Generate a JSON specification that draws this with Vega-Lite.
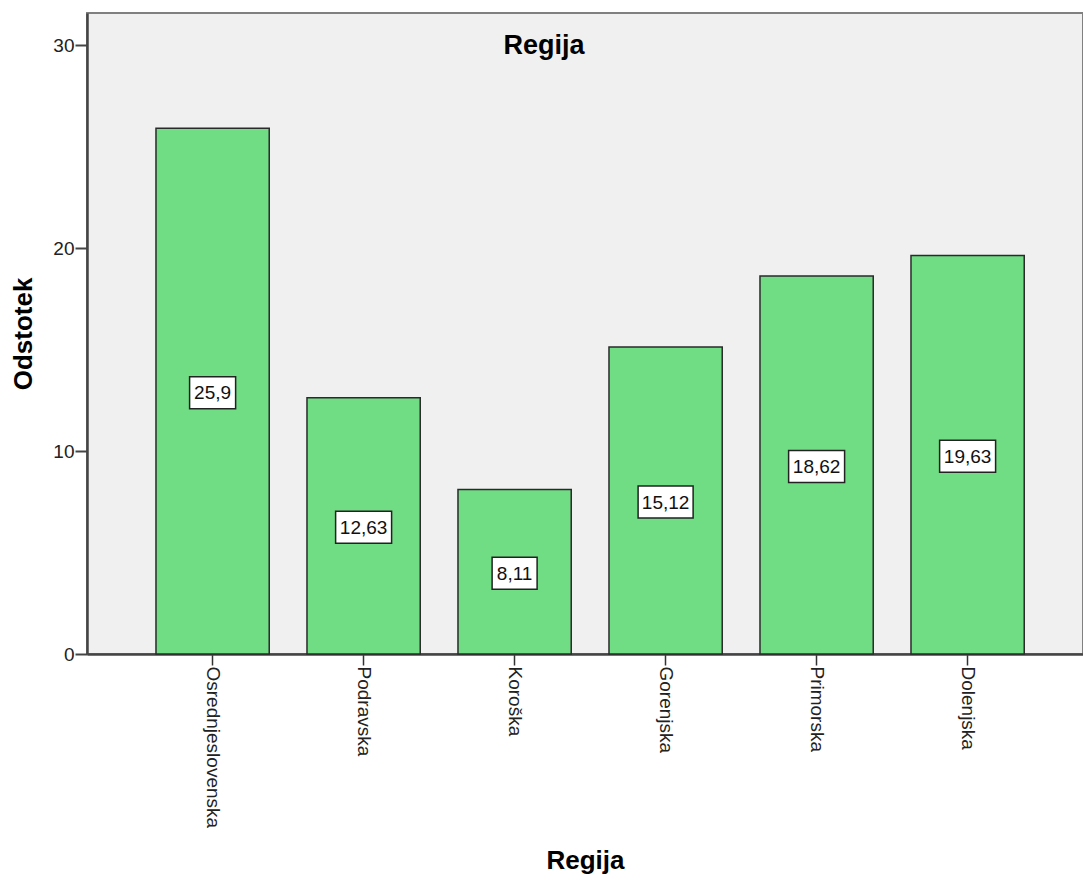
{
  "$schema": "https://vega.github.io/schema/vega-lite/v6.json",
  "width": 996,
  "height": 641,
  "autosize": {"type": "none"},
  "padding": {"left": 87, "top": 13, "right": 0, "bottom": 225},
  "background": "white",
  "config": {
    "font": "Liberation Sans",
    "view": {"fill": "#f0f0f0", "stroke": "#808080", "strokeWidth": 2},
    "locale": {"number": {"decimal": ",", "thousands": ".", "grouping": [3], "currency": ["", " €"]}}
  },
  "title": {
    "text": "Regija",
    "fontSize": 27,
    "fontWeight": "bold",
    "color": "black",
    "anchor": "middle",
    "frame": "group",
    "baseline": "alphabetic",
    "offset": 0,
    "dx": -41,
    "dy": 68
  },
  "data": {
    "values": [
      {"Regija": "Osrednjeslovenska", "Odstotek": 25.9},
      {"Regija": "Podravska", "Odstotek": 12.63},
      {"Regija": "Koroška", "Odstotek": 8.11},
      {"Regija": "Gorenjska", "Odstotek": 15.12},
      {"Regija": "Primorska", "Odstotek": 18.62},
      {"Regija": "Dolenjska", "Odstotek": 19.63}
    ]
  },
  "encoding": {
    "x": {
      "field": "Regija",
      "type": "nominal",
      "sort": null,
      "scale": {"paddingInner": 0.25, "paddingOuter": 0.423, "align": 0.54},
      "axis": {
        "title": "Regija",
        "labelAngle": 90,
        "labelFontSize": 19,
        "labelColor": "#222",
        "labelPadding": 1,
        "labelLimit": 400,
        "labelOverlap": false,
        "tickSize": 11,
        "tickColor": "#333",
        "tickWidth": 1.5,
        "domainColor": "#444",
        "domainWidth": 2.5,
        "titleFontSize": 26,
        "titleFontWeight": "bold",
        "titleColor": "black",
        "titlePadding": 20
      }
    }
  },
  "layer": [
    {
      "mark": {"type": "bar", "fill": "#70dc84", "stroke": "#2a2a2a", "strokeWidth": 1.5},
      "encoding": {
        "y": {
          "field": "Odstotek",
          "type": "quantitative",
          "scale": {"domain": [0, 31.58], "nice": false, "zero": true},
          "axis": {
            "values": [0, 10, 20, 30],
            "title": "Odstotek",
            "labelFontSize": 19,
            "labelColor": "#222",
            "labelPadding": 1,
            "tickSize": 12,
            "tickWidth": 2,
            "tickColor": "#444",
            "domainColor": "#444",
            "domainWidth": 2.5,
            "grid": false,
            "titleFontSize": 26,
            "titleFontWeight": "bold",
            "titleColor": "black",
            "titlePadding": 16
          }
        }
      }
    },
    {
      "mark": {"type": "point", "filled": true, "fill": "white", "stroke": "#222", "strokeWidth": 1.5, "size": 3600, "opacity": 1, "yOffset": 1.5},
      "encoding": {
        "y": {"field": "Odstotek", "type": "quantitative", "scale": {"domain": [0, 63.16], "nice": false}, "axis": null},
        "shape": {
          "field": "Regija",
          "type": "nominal",
          "scale": {
            "domain": ["Osrednjeslovenska", "Podravska", "Koroška", "Gorenjska", "Primorska", "Dolenjska"],
            "range": [
              "M-0.767,-0.533L0.767,-0.533L0.767,0.533L-0.767,0.533Z",
              "M-0.933,-0.533L0.933,-0.533L0.933,0.533L-0.933,0.533Z",
              "M-0.75,-0.533L0.75,-0.533L0.75,0.533L-0.75,0.533Z",
              "M-0.917,-0.533L0.917,-0.533L0.917,0.533L-0.917,0.533Z",
              "M-0.933,-0.533L0.933,-0.533L0.933,0.533L-0.933,0.533Z",
              "M-0.933,-0.533L0.933,-0.533L0.933,0.533L-0.933,0.533Z"
            ]
          },
          "legend": null
        }
      }
    },
    {
      "mark": {"type": "text", "fontSize": 19, "color": "#111", "align": "center", "baseline": "middle", "yOffset": 2},
      "encoding": {
        "y": {"field": "Odstotek", "type": "quantitative", "scale": {"domain": [0, 63.16], "nice": false}, "axis": null},
        "text": {"field": "Odstotek", "type": "quantitative", "format": ".4~r"}
      }
    }
  ],
  "resolve": {"scale": {"y": "independent", "shape": "independent"}}
}
